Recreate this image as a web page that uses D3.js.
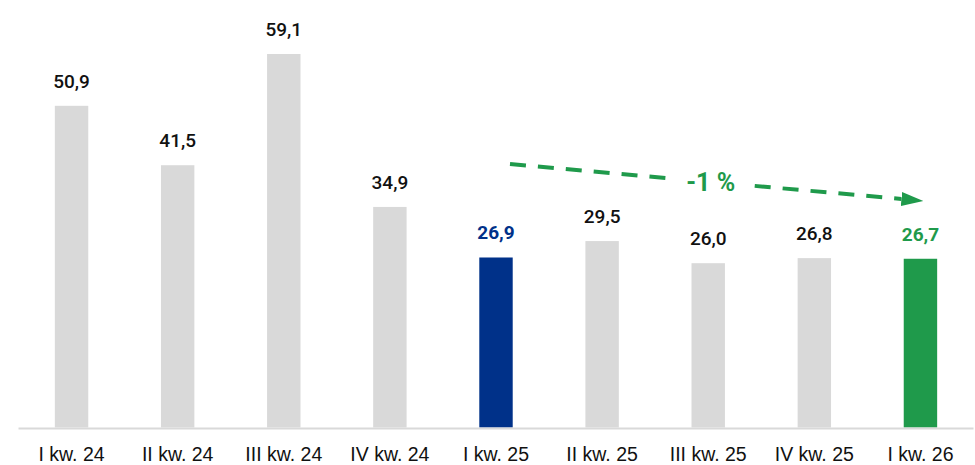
<!DOCTYPE html>
<html>
<head>
<meta charset="utf-8">
<script src="https://cdn.jsdelivr.net/npm/d3@7"></script>
<style>
  body { margin: 0; background: #fff; }
  svg { display: block; font-family: Roboto, "Noto Sans", sans-serif; }
</style>
</head>
<body>
<div id="chart"></div>
<script>
// quarters and values (mln)
const categories = ['I kw. 24', 'II kw. 24', 'III kw. 24', 'IV kw. 24', 'I kw. 25', 'II kw. 25', 'III kw. 25', 'IV kw. 25', 'I kw. 26'];
const values = [50.9, 41.5, 59.1, 34.9, 26.9, 29.5, 26.0, 26.8, 26.7];
const valueLabels = ['50,9', '41,5', '59,1', '34,9', '26,9', '29,5', '26,0', '26,8', '26,7'];
const changeLabel = '-1 %';
// the arrow runs from the base quarter to the latest one
const arrowFrom = 'I kw. 25';
const arrowTo = 'I kw. 26';

const width = 975, height = 465;
const margin = { top: 0, right: 1.5, bottom: 37.5, left: 18.5 };

const svg = d3.select('#chart')
  .append('svg')
    .attr('width', width)
    .attr('height', height);

const x = d3.scaleBand()
  .domain(categories)
  .range([margin.left, width - margin.right])
  .paddingInner(0.685)
  .paddingOuter(0.3425);

const y = d3.scaleLinear()
  .domain([0, 59.1])
  .range([height - margin.bottom, height - margin.bottom - 373.5]);

const barColor = (d, i) => {
  if (categories[i] === arrowFrom) return '#003189';
  if (categories[i] === arrowTo) return '#1f9a4b';
  return '#d9d9d9';
};

// bars
svg.selectAll('rect.bar')
  .data(values)
  .enter()
  .append('rect')
    .attr('class', 'bar')
    .attr('x', (d, i) => x(categories[i]))
    .attr('y', d => y(d))
    .attr('width', x.bandwidth())
    .attr('height', d => y(0) - y(d))
    .attr('fill', barColor);

// baseline
svg.append('line')
  .attr('x1', margin.left)
  .attr('x2', width - margin.right)
  .attr('y1', y(0) + 1)
  .attr('y2', y(0) + 1)
  .attr('stroke', '#d9d9d9')
  .attr('stroke-width', 2);

// x axis labels
const xAxis = svg.append('g')
  .attr('transform', `translate(0,${y(0)})`)
  .call(d3.axisBottom(x).tickSize(0).tickPadding(20));
xAxis.select('.domain').remove();
xAxis.selectAll('text')
  .attr('fill', '#111')
  .style('font-size', '19.5px')
  .style('font-weight', 500);

// value labels
svg.selectAll('text.val')
  .data(values)
  .enter()
  .append('text')
    .attr('class', 'val')
    .attr('x', (d, i) => x(categories[i]) + x.bandwidth() / 2)
    .attr('y', d => y(d) - 18)
    .attr('text-anchor', 'middle')
    .attr('fill', (d, i) => barColor(d, i) === '#d9d9d9' ? '#111' : barColor(d, i))
    .style('font-size', '19px')
    .style('font-weight', (d, i) => barColor(d, i) === '#d9d9d9' ? 500 : 700)
    .text((d, i) => valueLabels[i]);

// trend arrow
const green = '#1f9a4b';
svg.append('defs').append('marker')
  .attr('id', 'head')
  .attr('viewBox', '0 0 22 14')
  .attr('refX', 0)
  .attr('refY', 7)
  .attr('markerWidth', 22)
  .attr('markerHeight', 14)
  .attr('markerUnits', 'userSpaceOnUse')
  .attr('orient', 'auto')
  .append('path')
    .attr('d', 'M0,0 L22,7 L0,14 Z')
    .attr('fill', green);

const ax1 = x(arrowFrom) + x.bandwidth() / 2 + 14;
const ax2 = x(arrowTo) + x.bandwidth() / 2 - 19;
const ay1 = 164, ay2 = 199;
const tx = (ax1 + ax2) / 2 + 5, ty = (ay1 + ay2) / 2;
const gapHalf = 44;
const t1 = (tx - gapHalf - ax1) / (ax2 - ax1);
const t2 = (tx + gapHalf - ax1) / (ax2 - ax1);

svg.append('line')
  .attr('x1', ax1).attr('y1', ay1)
  .attr('x2', ax1 + (ax2 - ax1) * t1).attr('y2', ay1 + (ay2 - ay1) * t1)
  .attr('stroke', green)
  .attr('stroke-width', 4)
  .attr('stroke-dasharray', '16 12');

svg.append('line')
  .attr('x1', ax1 + (ax2 - ax1) * t2).attr('y1', ay1 + (ay2 - ay1) * t2)
  .attr('x2', ax2).attr('y2', ay2)
  .attr('stroke', green)
  .attr('stroke-width', 4)
  .attr('stroke-dasharray', '16 12')
  .attr('marker-end', 'url(#head)');

svg.append('text')
  .attr('x', tx)
  .attr('y', ty + 9)
  .attr('text-anchor', 'middle')
  .attr('fill', green)
  .style('font-size', '25px')
  .style('font-weight', 700)
  .text(changeLabel);
</script>
</body>
</html>
